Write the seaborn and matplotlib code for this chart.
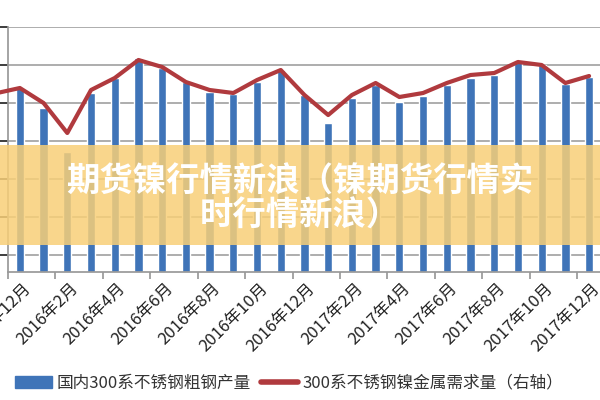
import matplotlib
matplotlib.use("Agg")
import matplotlib.pyplot as plt
import seaborn as sns
import pandas as pd
import numpy as np
from matplotlib.patches import Rectangle
from matplotlib.lines import Line2D

sns.set_theme(style="white")
plt.rcParams['font.family'] = ['Noto Sans CJK SC', 'DejaVu Sans']

months = ["2015年12月","2016年1月","2016年2月","2016年3月","2016年4月","2016年5月","2016年6月",
          "2016年7月","2016年8月","2016年9月","2016年10月","2016年11月","2016年12月",
          "2017年1月","2017年2月","2017年3月","2017年4月","2017年5月","2017年6月",
          "2017年7月","2017年8月","2017年9月","2017年10月","2017年11月","2017年12月"]
production = [184,164,120,179,194,214,204,190,180,178,190,202,177,149,174,187,170,176,187,194,197,210,207,188,195]
demand_prev = 177  # 2015年11月
demand = [184,169,139,182,194,212,205,190,182,179,192,202,177,157,177,189,175,179,189,197,199,210,207,189,196]
tick_labels = months[::2]

df = pd.DataFrame({"month": months, "production": production, "demand": demand})

fig = plt.figure(figsize=(6, 4), dpi=100)
ax = fig.add_axes([8/600, 128/400, 592/600, 245/400])
sns.barplot(data=df, x="month", y="production", color="#3f74b8", width=0.35, ax=ax, saturation=1)
ax.set_xlim(-0.46, 24.46)
ax.set_ylim(0, 245)
ax.set_yticks([17, 55, 93, 131, 169, 207, 245])
ax.set_yticklabels([])
ax.yaxis.grid(True, color="#a0a0a0", lw=1.2)
ax.set_axisbelow(True)
for s in ["top", "right"]:
    ax.spines[s].set_visible(False)
ax.spines["left"].set_color("#999999")
ax.spines["bottom"].set_color("#999999")
ax.set_xlabel(""); ax.set_ylabel("")

ax2 = ax.twinx()
ax2.set_ylim(0, 245)
ax2.set_yticks([])
for s in ax2.spines.values():
    s.set_visible(False)
xs = [-1.34] + list(range(len(months)))
ax2.plot(xs, [demand_prev] + demand, color="#b03a3e", lw=3, clip_on=False, solid_joinstyle="round")
ax2.set_xlim(-0.46, 24.46)

ax.set_xticks(np.arange(-0.5, 25, 2))
ax.set_xticklabels([])
ax.tick_params(axis="x", bottom=True, length=5, color="#999999")
for i, lab in zip(range(0, 25, 2), tick_labels):
    ax.text(i + 0.1, -8, lab, rotation=45, ha="right", va="top", rotation_mode="anchor",
            fontsize=12, color="#222222", transform=ax.transData, clip_on=False)

# banner overlay
fig.patches.append(Rectangle((0, 155/400), 1, 100/400, transform=fig.transFigure,
                             facecolor="#f8cf78", alpha=0.85, edgecolor="none", zorder=10))
fig.text(0.5, 1 - 182/400, "期货镍行情新浪（镍期货行情实", ha="center", va="center",
         fontsize=24, fontweight="bold", color="white", zorder=11)
fig.text(0.5, 1 - 216/400, "时行情新浪）", ha="center", va="center",
         fontsize=24, fontweight="bold", color="white", zorder=11)

handles = [Rectangle((0, 0), 1, 1, color="#3f74b8"),
           Line2D([0], [0], color="#b03a3e", lw=4)]
fig.legend(handles, ["国内300系不锈钢粗钢产量", "300系不锈钢镍金属需求量（右轴）"],
           loc="center left", bbox_to_anchor=(0.0, 1 - 383/400), ncol=2, frameon=False,
           fontsize=12, handlelength=2.2, columnspacing=0.6, handletextpad=0.3, labelcolor="#333333")

fig.savefig("out.png", dpi=100)
